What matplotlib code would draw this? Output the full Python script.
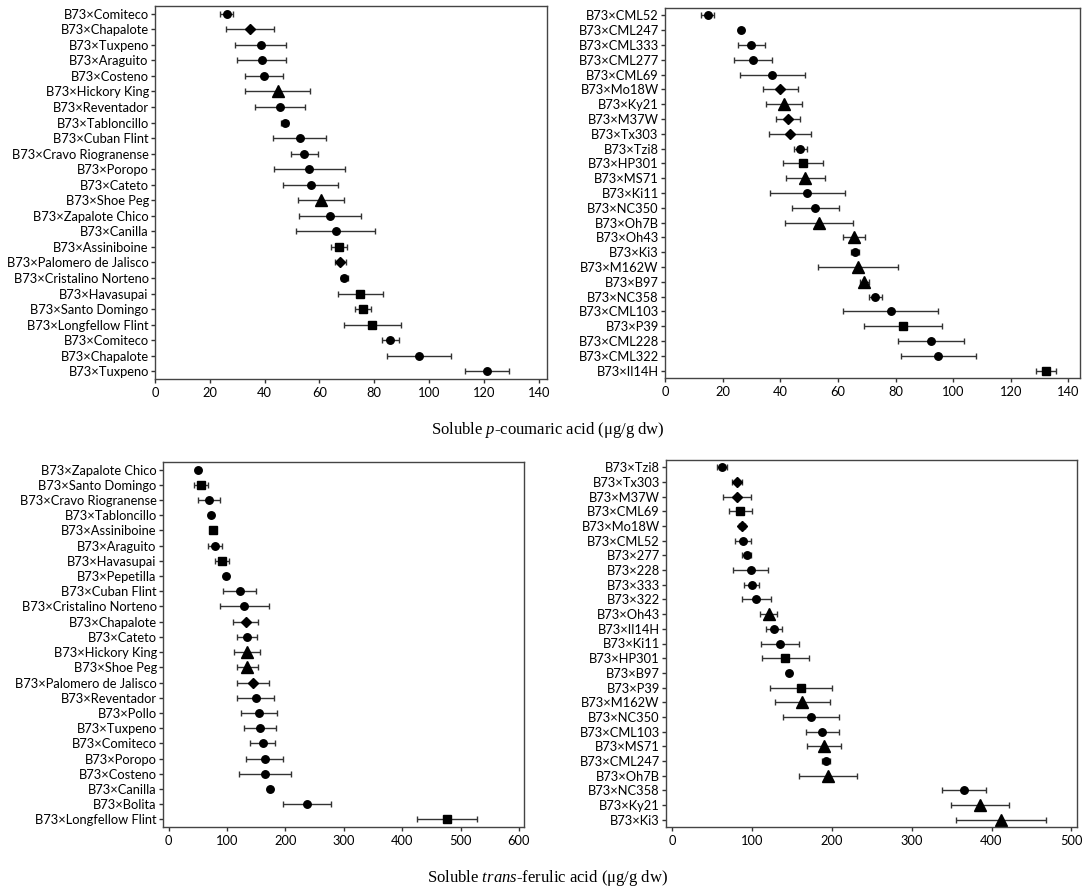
import numpy as np
import matplotlib
matplotlib.use("Agg")
import matplotlib.pyplot as plt

plt.rcParams["font.family"] = ["Lato", "DejaVu Sans"]
plt.rcParams["mathtext.fontset"] = "custom"
plt.rcParams["mathtext.rm"] = "Liberation Serif"
plt.rcParams["mathtext.it"] = "Liberation Serif:italic"

# --- data: p-coumaric, landraces (top left) ---
pc_land_names = ["Comiteco", "Chapalote", "Tuxpeno", "Araguito", "Costeno", "Hickory King",
                 "Reventador", "Tabloncillo", "Cuban Flint", "Cravo Riogranense", "Poropo",
                 "Cateto", "Shoe Peg", "Zapalote Chico", "Canilla", "Assiniboine",
                 "Palomero de Jalisco", "Cristalino Norteno", "Havasupai", "Santo Domingo",
                 "Longfellow Flint", "Comiteco", "Chapalote", "Tuxpeno"]
pc_land_mean = [26.1, 34.6, 38.5, 38.9, 39.8, 44.8, 45.6, 47.3, 52.8, 54.5, 56.3, 56.8,
                60.6, 63.9, 65.9, 67.2, 67.6, 69.1, 74.9, 75.9, 79.2, 85.9, 96.3, 121.1]
pc_land_err = [2.3, 8.8, 9.2, 8.9, 7.0, 11.8, 9.2, 1.2, 9.7, 4.9, 13.0, 10.0,
               8.4, 11.3, 14.4, 2.9, 2.1, 1.2, 8.3, 2.9, 10.4, 3.2, 11.7, 7.9]
pc_land_mark = ["o", "D", "o", "o", "o", "^", "o", "o", "o", "o", "o", "o",
                "^", "o", "o", "s", "D", "o", "s", "s", "s", "o", "o", "o"]

# --- data: p-coumaric, inbreds (top right) ---
pc_inb_names = ["CML52", "CML247", "CML333", "CML277", "CML69", "Mo18W", "Ky21", "M37W",
                "Tx303", "Tzi8", "HP301", "MS71", "Ki11", "NC350", "Oh7B", "Oh43", "Ki3",
                "M162W", "B97", "NC358", "CML103", "P39", "CML228", "CML322", "Il14H"]
pc_inb_mean = [14.8, 26.4, 30.0, 30.6, 37.3, 40.0, 41.3, 42.8, 43.3, 47.0, 47.8, 48.7, 49.4,
               52.2, 53.4, 65.5, 65.9, 67.0, 69.2, 73.0, 78.3, 82.5, 92.3, 94.8, 132.3]
pc_inb_err = [2.2, 0.5, 4.6, 6.5, 11.4, 6.0, 6.2, 4.2, 7.3, 2.3, 7.0, 6.8, 13.0,
              8.2, 11.9, 3.9, 1.3, 14.0, 1.5, 2.2, 16.6, 13.6, 11.3, 13.0, 3.4]
pc_inb_mark = ["o", "o", "o", "o", "o", "D", "^", "D", "D", "o", "s", "^", "o",
               "o", "^", "^", "o", "^", "^", "o", "o", "s", "o", "o", "s"]

# --- data: trans-ferulic, landraces (bottom left) ---
tf_land_names = ["Zapalote Chico", "Santo Domingo", "Cravo Riogranense", "Tabloncillo",
                 "Assiniboine", "Araguito", "Havasupai", "Pepetilla", "Cuban Flint",
                 "Cristalino Norteno", "Chapalote", "Cateto", "Hickory King", "Shoe Peg",
                 "Palomero de Jalisco", "Reventador", "Pollo", "Tuxpeno", "Comiteco",
                 "Poropo", "Costeno", "Canilla", "Bolita", "Longfellow Flint"]
tf_land_mean = [51.1, 55.7, 68.9, 72.8, 75.4, 79.3, 91.1, 98.4, 122.0, 129.2, 131.8, 133.8,
                133.8, 135.1, 144.9, 148.9, 154.8, 156.7, 161.3, 164.6, 165.2, 174.4,
                236.7, 476.7]
tf_land_err = [2.0, 11.5, 19.3, 3.0, 2.0, 12.5, 11.5, 3.0, 28.0, 42.0, 21.0, 17.4,
               22.3, 17.7, 27.5, 31.5, 30.0, 28.0, 21.7, 32.0, 45.0, 3.0, 41.6, 52.0]
tf_land_mark = ["o", "s", "o", "o", "s", "o", "s", "o", "o", "o", "D", "o",
                "^", "^", "D", "o", "o", "o", "o", "o", "o", "o", "o", "s"]

# --- data: trans-ferulic, inbreds (bottom right) ---
tf_inb_names = ["Tzi8", "Tx303", "M37W", "CML69", "Mo18W", "CML52", "277", "228", "333",
                "322", "Oh43", "Il14H", "Ki11", "HP301", "B97", "P39", "M162W", "NC350",
                "CML103", "MS71", "CML247", "Oh7B", "NC358", "Ky21", "Ki3"]
tf_inb_mean = [62.6, 81.3, 81.3, 85.7, 87.4, 88.3, 93.5, 98.3, 100.0, 105.7, 120.9, 127.4,
               135.2, 141.7, 146.5, 161.3, 163.0, 174.3, 188.3, 190.0, 193.0, 195.7,
               366.1, 385.7, 411.7]
tf_inb_err = [6.5, 6.0, 18.0, 14.4, 4.0, 10.0, 6.0, 22.4, 9.4, 18.0, 10.5, 10.2,
              24.0, 29.4, 3.0, 39.2, 34.6, 35.0, 20.4, 21.5, 4.8, 36.3, 27.6, 36.0, 56.3]
tf_inb_mark = ["o", "D", "D", "s", "D", "o", "o", "o", "o", "o", "^", "o",
               "o", "s", "o", "s", "^", "o", "o", "^", "o", "^", "o", "^", "^"]

W, H = 1084, 892
fig = plt.figure(figsize=(W / 100, H / 100), dpi=100)


def box(l, r, t, b):
    return [l / W, 1 - b / H, (r - l) / W, (b - t) / H]


msize = {"o": 5.4, "D": 5.4, "^": 9, "s": 5.9}


def panel(rect, names, mean, err, marks, xlim, xticks):
    ax = fig.add_axes(rect)
    y = np.arange(len(names))
    ax.errorbar(mean, y, xerr=err, fmt="none", ecolor="#333333", elinewidth=1,
                capsize=2, capthick=1)
    for m in set(marks):
        idx = [i for i, k in enumerate(marks) if k == m]
        ax.plot(np.array(mean)[idx], y[idx], ls="none", marker=m, ms=msize[m],
                color="black", mec="black")
    ax.set_yticks(y)
    ax.set_yticklabels(["B73\u00d7" + n for n in names])
    ax.set_ylim(len(names) - 0.5, -0.5)
    ax.set_xlim(*xlim)
    ax.set_xticks(xticks)
    ax.tick_params(axis="both", direction="out", length=3, width=1, colors="#333333",
                   labelcolor="black", labelsize=9.3, pad=1.5)
    ax.tick_params(axis="x", pad=3)
    for s in ax.spines.values():
        s.set_color("#444444")
        s.set_linewidth(1)
    return ax


panel(box(155, 547, 6, 379), pc_land_names, pc_land_mean, pc_land_err, pc_land_mark,
      (0, 143), range(0, 141, 20))
panel(box(665, 1080, 8, 378), pc_inb_names, pc_inb_mean, pc_inb_err, pc_inb_mark,
      (0, 144), range(0, 141, 20))
panel(box(163, 524, 462, 827), tf_land_names, tf_land_mean, tf_land_err, tf_land_mark,
      (-9.6, 608.6), range(0, 601, 100))
panel(box(666, 1077, 460, 827), tf_inb_names, tf_inb_mean, tf_inb_err, tf_inb_mark,
      (-7.5, 507), range(0, 501, 100))

fig.text(548 / W, 1 - 430 / H, "Soluble $\\mathit{p}$-coumaric acid (\u03bcg/g dw)",
         ha="center", va="center", fontsize=12, family="Liberation Serif")
fig.text(548 / W, 1 - 878 / H, "Soluble $\\mathit{trans}$-ferulic acid (\u03bcg/g dw)",
         ha="center", va="center", fontsize=12, family="Liberation Serif")

fig.savefig("out.png", dpi=100)
